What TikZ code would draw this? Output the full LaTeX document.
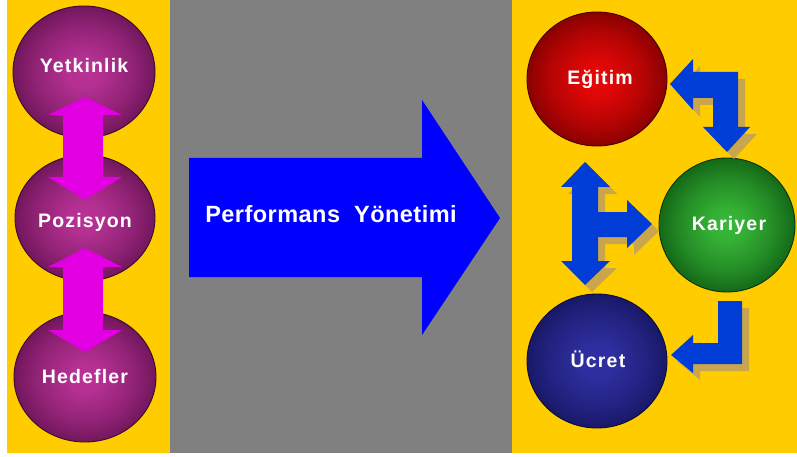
\documentclass[tikz,border=0pt]{standalone}
\usepackage{fontspec}
\setmainfont{Liberation Sans}
\usetikzlibrary{shapes.geometric}

% palette
\definecolor{panel}{RGB}{255,204,0}
\definecolor{midgray}{RGB}{128,128,128}
\definecolor{bigblue}{RGB}{0,0,255}
\definecolor{lblue}{RGB}{0,60,214}
\definecolor{shadowtan}{RGB}{201,166,78}
\definecolor{linkmag}{RGB}{226,0,226}
\definecolor{magin}{RGB}{186,50,150}
\definecolor{magout}{RGB}{106,20,86}
\definecolor{redin}{RGB}{232,8,8}
\definecolor{redout}{RGB}{128,0,0}
\definecolor{grnin}{RGB}{56,184,56}
\definecolor{grnout}{RGB}{16,96,20}
\definecolor{navin}{RGB}{48,48,164}
\definecolor{navout}{RGB}{22,22,98}

% spherical ball shadings
\pgfdeclareradialshading{ballmag}{\pgfpoint{0bp}{0bp}}{color(0bp)=(magin); color(6bp)=(magin!92!magout); color(17bp)=(magin!50!magout); color(27bp)=(magout); color(50bp)=(magout)}
\pgfdeclareradialshading{ballred}{\pgfpoint{0bp}{0bp}}{color(0bp)=(redin); color(6bp)=(redin!92!redout); color(17bp)=(redin!50!redout); color(27bp)=(redout); color(50bp)=(redout)}
\pgfdeclareradialshading{ballgrn}{\pgfpoint{0bp}{0bp}}{color(0bp)=(grnin); color(6bp)=(grnin!92!grnout); color(17bp)=(grnin!50!grnout); color(27bp)=(grnout); color(50bp)=(grnout)}
\pgfdeclareradialshading{ballnav}{\pgfpoint{0bp}{0bp}}{color(0bp)=(navin); color(6bp)=(navin!92!navout); color(17bp)=(navin!50!navout); color(27bp)=(navout); color(50bp)=(navout)}

% lettering
\newfontfamily\balltext[LetterSpace=6]{Liberation Sans}
\newfontfamily\arrowtext[LetterSpace=2]{Liberation Sans}

% outlines of the arrow shapes
\newcommand{\magArrowTop}{(85,97) -- (122,115) -- (103,115) -- (103,177) -- (122,177) -- (85,200) -- (48,177) -- (63,177) -- (63,115) -- (48,115) -- cycle}
\newcommand{\magArrowBot}{(85,248) -- (122,267) -- (103,267) -- (103,330) -- (122,330) -- (85,352) -- (48,330) -- (63,330) -- (63,267) -- (48,267) -- cycle}
\newcommand{\bigArrow}{(189,158) -- (422,158) -- (422,100) -- (500,218) -- (422,335) -- (422,277) -- (189,277) -- cycle}
\newcommand{\elbowA}{(670,84) -- (693,59) -- (693,72) -- (738,72) -- (738,127) -- (750,127) -- (727,152) -- (703,127) -- (713,127) -- (713,98) -- (693,98) -- (693,110) -- cycle}
\newcommand{\teeB}{(585,162) -- (610,187) -- (598,187) -- (598,212) -- (627,212) -- (627,200) -- (652,224) -- (627,248) -- (627,237) -- (598,237) -- (598,261) -- (610,261) -- (585,285) -- (561,261) -- (572,261) -- (572,187) -- (561,187) -- cycle}
\newcommand{\elbowC}{(742,301) -- (742,364) -- (693,364) -- (693,373) -- (671,355) -- (693,335) -- (693,343) -- (718,343) -- (718,301) -- cycle}

\begin{document}
\begin{tikzpicture}[x=1pt,y=-1pt,
  ball/.style={ellipse, inner sep=0pt, line width=0.9pt},
  lbl/.style={text=white, anchor=base, inner sep=0pt,
    font=\balltext\bfseries\fontsize{19.5pt}{19.5pt}\selectfont},
  bigtxt/.style={text=white, anchor=base, inner sep=0pt,
    font=\arrowtext\bfseries\fontsize{23.5pt}{23.5pt}\selectfont},
  shadow/.style={fill=shadowtan, shift={(7,7)}}]

\useasboundingbox (0,0) rectangle (797,457);

% background panels
\fill[white] (0,0) rectangle (797,457);
\fill[panel] (7,0) rectangle (170,453);
\fill[midgray] (170,0) rectangle (512,453);
\fill[panel] (512,0) rectangle (797,453);

% left column of balls
\node[ball, shading=ballmag, draw=magout!55!black, minimum width=142pt, minimum height=132pt] (yet) at (84,72) {};
\node[ball, shading=ballmag, draw=magout!55!black, minimum width=140pt, minimum height=126pt] (poz) at (85,218) {};
\node[ball, shading=ballmag, draw=magout!55!black, minimum width=142pt, minimum height=130pt] (hed) at (85,377) {};

% magenta double arrows
\fill[linkmag] \magArrowTop;
\fill[linkmag] \magArrowBot;

\node[lbl] (tyet) at (84,73) {Yetkinlik};
\node[lbl] (tpoz) at (85,227) {Pozisyon};
\node[lbl] (thed) at (85,383) {Hedefler};

% central arrow
\fill[bigblue] \bigArrow;
\node[bigtxt] (perf) at (331,222) {Performans\ \ Yönetimi};

% right cycle of balls
\node[ball, shading=ballred, draw=redout!55!black, minimum width=140pt, minimum height=134pt] (egi) at (597,79) {};
\node[ball, shading=ballgrn, draw=grnout!55!black, minimum width=136pt, minimum height=134pt] (kar) at (727,225) {};
\node[ball, shading=ballnav, draw=navout!55!black, minimum width=140pt, minimum height=134pt] (ucr) at (597,361) {};

\node[lbl] (tegi) at (600,85) {Eğitim};
\node[lbl] (tkar) at (729,230) {Kariyer};
\node[lbl] (tucr) at (598,367) {Ücret};

% elbow arrows with drop shadows
\fill[shadow] \elbowA;
\fill[shadow] \teeB;
\fill[shadow] \elbowC;
\fill[lblue] \elbowA;
\fill[lblue] \teeB;
\fill[lblue] \elbowC;

\end{tikzpicture}
\end{document}
